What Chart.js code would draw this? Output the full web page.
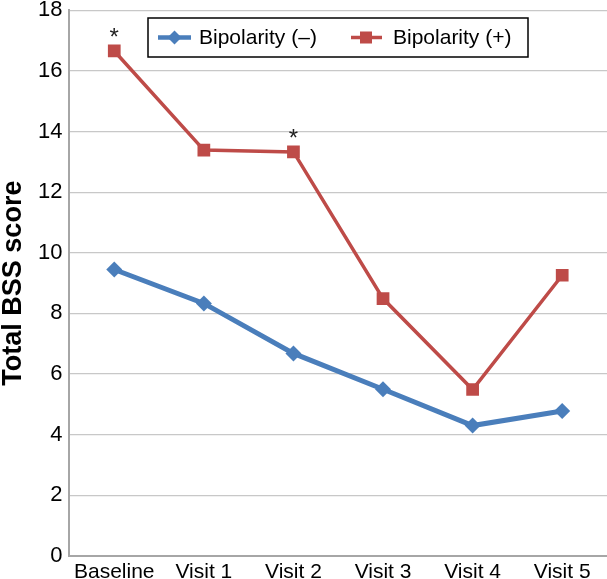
<!DOCTYPE html>
<html>
<head>
<meta charset="utf-8">
<script src="https://cdn.jsdelivr.net/npm/chart.js@4.4.1/dist/chart.umd.min.js"></script>
<style>
  body { margin: 0; background: #fff; overflow: hidden; }
  #wrap { width: 607px; height: 579px; overflow: hidden; position: relative; }
  #grafico { position: absolute; left: 0; top: -6px; }
</style>
</head>
<body>
<div id="wrap"><canvas id="grafico" width="616" height="585"></canvas></div>
<script>
// dados
let visitas = ['Baseline', 'Visit 1', 'Visit 2', 'Visit 3', 'Visit 4', 'Visit 5']
let bipolarNeg = [9.45, 8.33, 6.68, 5.50, 4.30, 4.78]
let bipolarPos = [16.66, 13.39, 13.33, 8.49, 5.49, 9.26]
let marcados = [0, 2]   // pontos com asterisco na série (+)
let ticksY = [0, 2, 4, 6, 8, 10, 12, 14, 16, 18]

let azul = '#4A7EBB'
let vermelho = '#BE4B48'
let fonte = "'Liberation Sans', Arial, sans-serif"

// asteriscos acima dos pontos marcados
const asteriscos = {
    id: 'asteriscos',
    afterDatasetsDraw(chart) {
        let ctx = chart.ctx
        let meta = chart.getDatasetMeta(1)
        ctx.save()
        ctx.fillStyle = '#222'
        ctx.font = '24px ' + fonte
        ctx.textAlign = 'center'
        ctx.textBaseline = 'middle'
        for (let i of marcados) {
            let p = meta.data[i]
            ctx.fillText('*', p.x, p.y - 13)
        }
        ctx.restore()
    }
}

// legenda com caixa (canvas está 6px acima da página)
const legendaCaixa = {
    id: 'legendaCaixa',
    afterDraw(chart) {
        let ctx = chart.ctx
        ctx.save()
        ctx.translate(0, 6)
        ctx.fillStyle = '#fff'
        ctx.fillRect(148, 18, 380, 39)
        ctx.strokeStyle = '#000'
        ctx.lineWidth = 1.5
        ctx.strokeRect(148, 18, 380, 39)
        let cy = 37.5
        // série (-)
        ctx.strokeStyle = azul
        ctx.lineWidth = 4.5
        ctx.beginPath(); ctx.moveTo(158, cy); ctx.lineTo(191, cy); ctx.stroke()
        ctx.fillStyle = azul
        ctx.beginPath()
        ctx.moveTo(174.5, cy - 7); ctx.lineTo(181.5, cy); ctx.lineTo(174.5, cy + 7); ctx.lineTo(167.5, cy)
        ctx.closePath(); ctx.fill()
        // série (+)
        ctx.strokeStyle = vermelho
        ctx.lineWidth = 3.5
        ctx.beginPath(); ctx.moveTo(351, cy); ctx.lineTo(382, cy); ctx.stroke()
        ctx.fillStyle = vermelho
        ctx.fillRect(360, cy - 6, 12, 12)
        ctx.fillStyle = '#000'
        ctx.font = '21px ' + fonte
        ctx.textAlign = 'left'
        ctx.textBaseline = 'middle'
        ctx.fillText(chart.data.datasets[0].label, 199, cy + 1)
        ctx.fillText(chart.data.datasets[1].label, 393, cy + 1)
        ctx.restore()
    }
}

const config = {
    type: 'line',
    data: {
        labels: visitas,
        datasets: [
            {
                label: 'Bipolarity (–)',
                data: bipolarNeg,
                borderColor: azul,
                backgroundColor: azul,
                borderWidth: 5,
                pointStyle: 'rectRot',
                pointRadius: 8,
                pointBorderWidth: 0,
                tension: 0
            },
            {
                label: 'Bipolarity (+)',
                data: bipolarPos,
                borderColor: vermelho,
                backgroundColor: vermelho,
                borderWidth: 3.5,
                pointStyle: 'rect',
                pointRadius: 9,
                pointBorderWidth: 0,
                tension: 0
            }
        ]
    },
    options: {
        responsive: false,
        animation: false,
        layout: { padding: { left: 0, right: 0, top: 0, bottom: -10 } },
        plugins: {
            legend: { display: false },
            tooltip: { enabled: false }
        },
        scales: {
            x: {
                offset: true,
                grid: { display: false, drawTicks: false },
                border: { display: true, color: '#a6a6a6', width: 2 },
                ticks: {
                    color: '#000',
                    padding: 5,
                    font: { family: fonte, size: 21, lineHeight: 1.1 }
                }
            },
            y: {
                min: 0,
                max: 18,
                afterBuildTicks(axis) {
                    axis.ticks = ticksY.map(v => ({ value: v }))
                },
                grid: { color: '#c8c8c8', lineWidth: 1.2, drawTicks: false },
                border: { display: true, color: '#a6a6a6', width: 2 },
                ticks: {
                    color: '#000',
                    padding: 7,
                    font: { family: fonte, size: 22, lineHeight: 0.85 }
                },
                title: {
                    display: true,
                    text: 'Total BSS score',
                    color: '#000',
                    padding: { top: 0, bottom: 4 },
                    font: { family: fonte, size: 27, weight: 'bold', lineHeight: 1 }
                }
            }
        }
    },
    plugins: [asteriscos, legendaCaixa]
}

new Chart(document.getElementById('grafico'), config)
</script>
</body>
</html>
